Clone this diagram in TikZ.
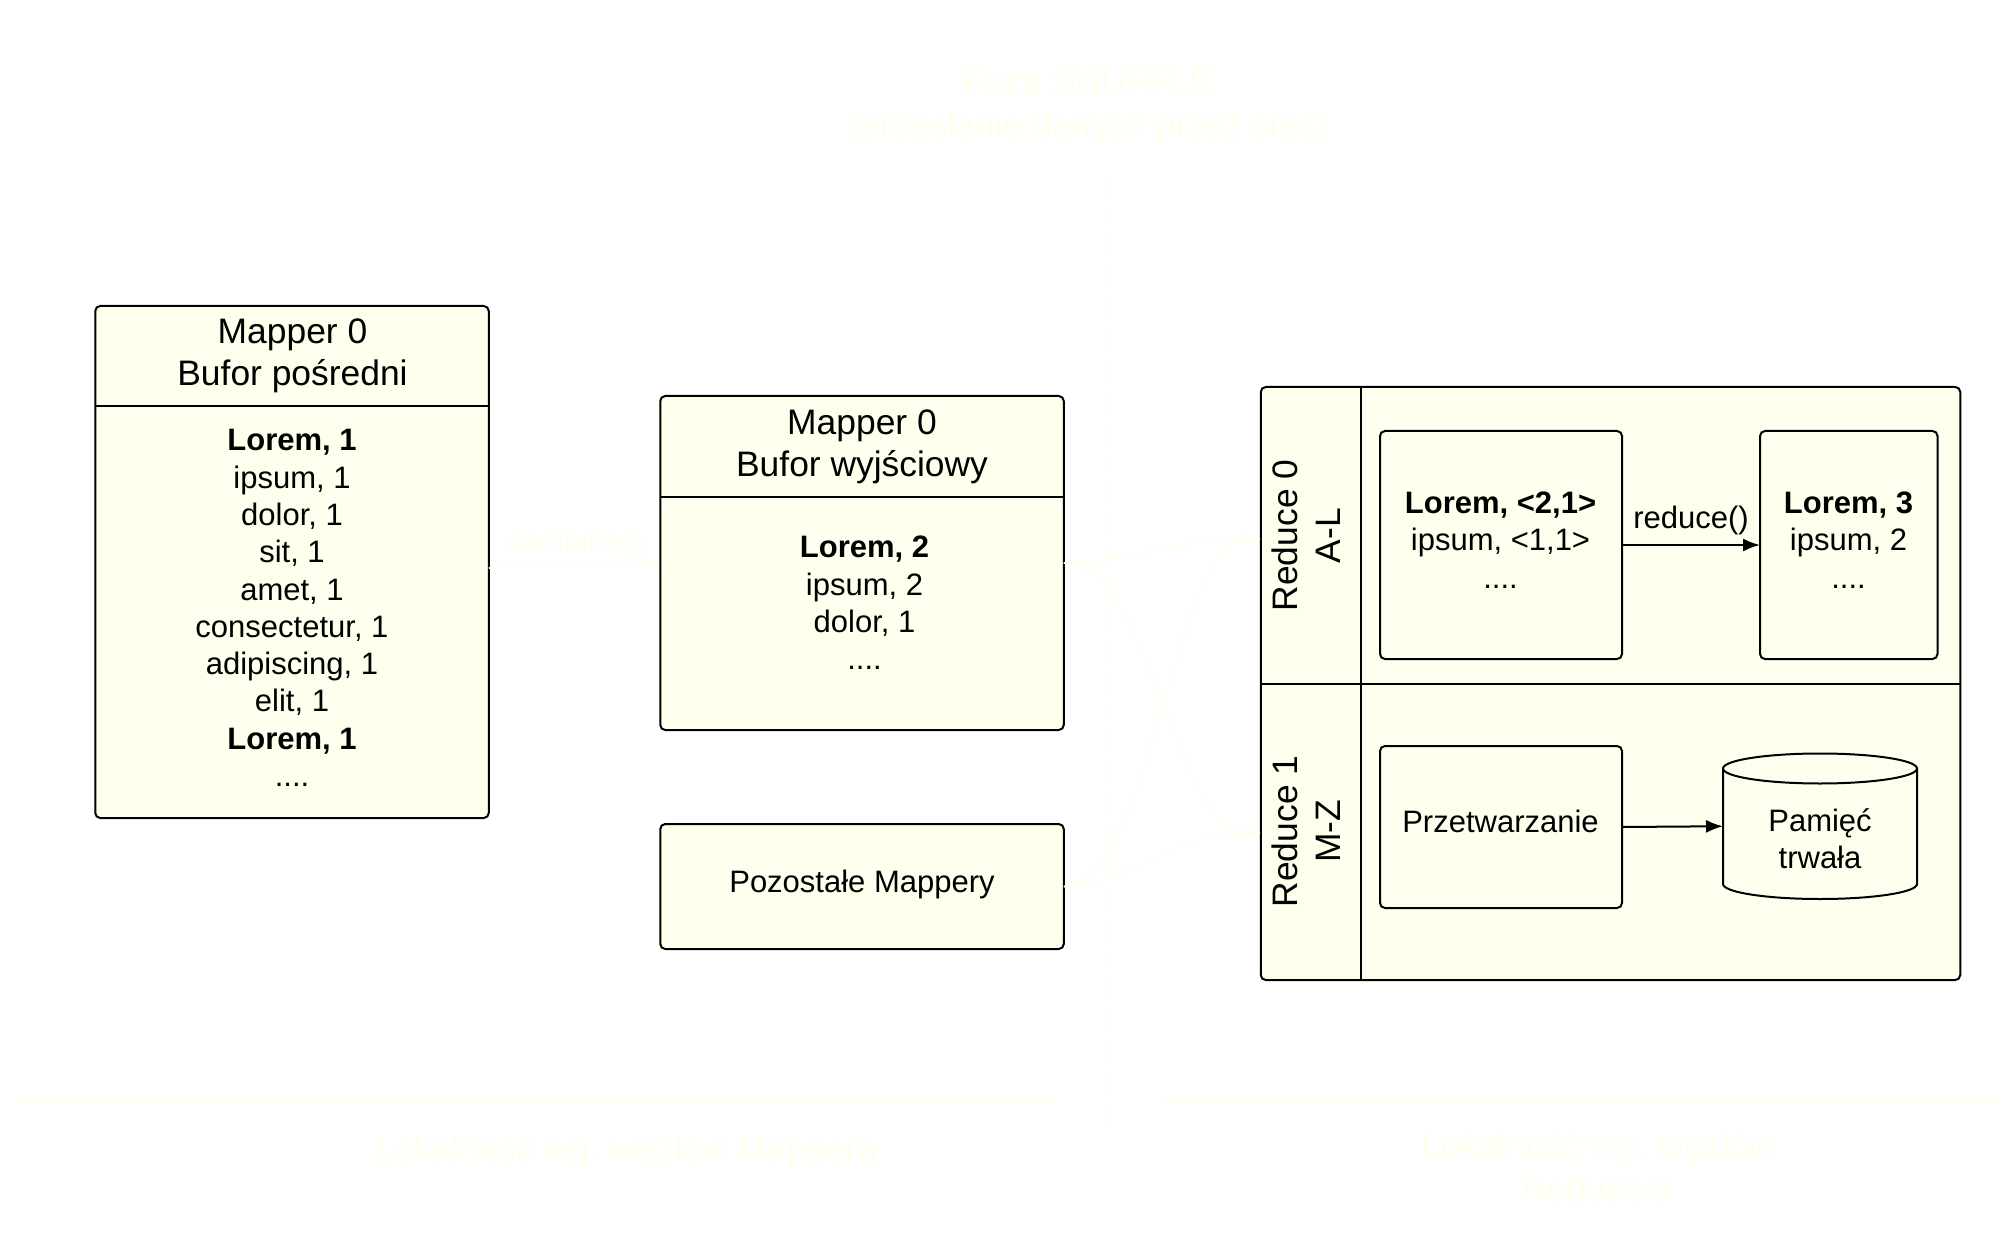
\documentclass[tikz,border=0pt]{standalone}
\usepackage{fontspec}
\setmainfont{Liberation Sans}
\usetikzlibrary{arrows.meta,calc}
\definecolor{paleY}{HTML}{FFFFEE}
\newcommand{\bodyfs}{\fontsize{15.5}{18.65}\selectfont}
\newcommand{\headfs}{\fontsize{17.7}{21.2}\selectfont}
\tikzset{
  boxb/.style={draw=black,fill=paleY,line width=1pt,rounded corners=2.5pt,inner sep=0pt,outer sep=0pt},
  bodyt/.style={font=\bodyfs,align=center,inner sep=0pt,text=black},
  headt/.style={font=\headfs,align=center,inner sep=0pt,text=black},
  palet/.style={font=\headfs,align=center,inner sep=0pt,text=paleY},
  divider/.style={line width=1pt,draw=black},
  flow/.style={line width=1pt,draw=black,-{Latex[length=8.5pt,width=6.5pt]}},
  paleflow/.style={line width=.8pt,draw=paleY,-{Latex[length=8pt,width=6pt]}},
  guide/.style={line width=1.5pt,draw=paleY},
  vguide/.style={line width=1pt,draw=paleY,dash pattern=on 10pt off 5.5pt},
}
\begin{document}
\begin{tikzpicture}[x=0.5pt,y=-0.5pt]
\useasboundingbox (0,0) rectangle (2016,1240);
% pale guides
\coordinate (vtop) at (1108.5,175);
\coordinate (vbot) at (1108.5,1138);
\draw[vguide] (vtop) -- (vbot);
\coordinate (hla) at (20,1100);
\coordinate (hlb) at (1057,1100);
\coordinate (hra) at (1165,1100);
\coordinate (hrb) at (2000,1100);
\draw[guide] (hla) -- (hlb);
\draw[guide] (hra) -- (hrb);
\node[palet] (title) at (1088,107) {Faza SHUFFLE\\[.6pt](przesłanie danych przez sieć)};
\node[palet] (locm) at (626,1152) {Lokalność wg. węzłów Mappera};
\node[palet] (locr) at (1598,1167) {Lokalność wg. węzłów\\Reducera};
% intermediate buffer
\node[boxb,minimum width=196.75pt,minimum height=256pt] (buf) at (292,562) {};
\coordinate (bufl) at (95.5,406.5);
\coordinate (bufr) at (488.5,406.5);
\draw[divider] (bufl) -- (bufr);
\node[headt] (bufh) at (292.5,356) {Mapper 0\\Bufor pośredni};
\node[bodyt] (bufb) at (292,608) {\textbf{Lorem, 1}\\ipsum, 1\\dolor, 1\\sit, 1\\amet, 1\\consectetur, 1\\adipiscing, 1\\elit, 1\\\textbf{Lorem, 1}\\....};
% output buffer
\node[boxb,minimum width=201.75pt,minimum height=167pt] (mid) at (862,563) {};
\coordinate (midl) at (660.5,496.5);
\coordinate (midr) at (1063.5,496.5);
\draw[divider] (midl) -- (midr);
\node[headt] (midh) at (862,447) {Mapper 0\\Bufor wyjściowy};
\node[bodyt] (midb) at (864.5,603) {\textbf{Lorem, 2}\\ipsum, 2\\dolor, 1\\....};
% others
\node[boxb,minimum width=201.75pt,minimum height=62.5pt] (poz) at (862,886.5) {};
\node[bodyt] (pozt) at (862,884.5) {Pozostałe Mappery};
% reduce lanes
\node[boxb,minimum width=349.75pt,minimum height=296.5pt] (lane) at (1610.5,683.5) {};
\coordinate (lanetop) at (1361,387);
\coordinate (lanebot) at (1361,980);
\coordinate (lanemidl) at (1261,683.5);
\coordinate (lanemidr) at (1960,683.5);
\draw[divider] (lanetop) -- (lanebot);
\draw[divider] (lanemidl) -- (lanemidr);
\coordinate (rzero) at (1261,539);
\coordinate (rone) at (1261,833);
\node[headt,rotate=90] (r0t) at (1306,535.5) {Reduce 0\\A-L};
\node[headt,rotate=90] (r1t) at (1306,831.5) {Reduce 1\\M-Z};
% inner boxes
\node[boxb,minimum width=121pt,minimum height=114pt] (grp) at (1501,545) {};
\node[boxb,minimum width=88.75pt,minimum height=114pt] (res) at (1848.75,545) {};
\node[boxb,minimum width=121pt,minimum height=81pt] (prz) at (1501,827) {};
\node[bodyt] (grpt) at (1500.5,540) {\textbf{Lorem, <2,1>}\\ipsum, <1,1>\\....};
\node[bodyt] (rest) at (1848.5,540) {\textbf{Lorem, 3}\\ipsum, 2\\....};
\node[bodyt] (przt) at (1500.5,821) {Przetwarzanie};
% cylinder
\node[outer sep=0pt,inner sep=0pt,minimum width=97pt,minimum height=72.75pt] (cyl) at (1820,826.25) {};
\draw[fill=paleY,line width=1pt,draw=black]
  ($(cyl.north west)+(0,15)$) arc[start angle=180,end angle=0,x radius=48.5pt,y radius=7.5pt]
  -- ($(cyl.south east)+(0,-15)$) arc[start angle=0,end angle=-180,x radius=48.5pt,y radius=7.5pt] -- cycle;
\draw[line width=1pt,draw=black]
  ($(cyl.north west)+(0,15)$) arc[start angle=180,end angle=360,x radius=48.5pt,y radius=7.5pt];
\node[bodyt] (cylt) at (1820,838.5) {Pamięć\\trwała};
% connectors
\draw[flow] (grp.east) -- (res.west) node[midway,above=4.6pt,font=\bodyfs,text=black,inner sep=0pt] (redl) {reduce()};
\draw[flow] (prz.east) -- (cyl.west);
\draw[paleflow] ($(buf.east)+(0,6)$) -- (mid.west) node[midway,above=3.5pt,font=\bodyfs,text=paleY,inner sep=0pt] (coml) {combine()};
\draw[paleflow] (mid.east) .. controls (1130,563) and (1170,539) .. (rzero);
\draw[paleflow] (mid.east) .. controls (1150,563) and (1175,833) .. (rone);
\draw[paleflow] (poz.east) .. controls (1150,887) and (1175,539) .. (rzero);
\draw[paleflow] (poz.east) .. controls (1130,887) and (1170,833) .. (rone);
\end{tikzpicture}
\end{document}
